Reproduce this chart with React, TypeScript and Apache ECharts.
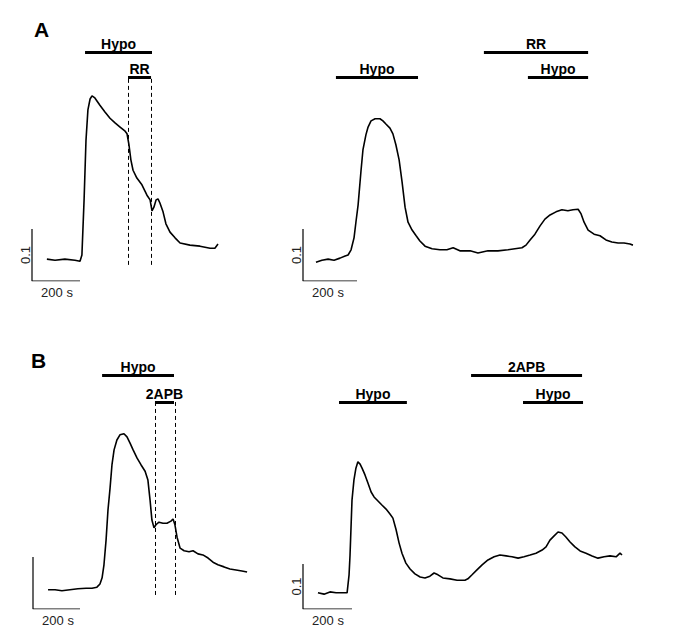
import React, { useEffect, useRef } from "react";
import * as echarts from "echarts";

// ---- Data (time in s, value in ratio units) ----
// Panel A, left trace
const aLeftTime = [62, 96, 137, 179, 200, 208, 217, 225, 233, 242, 250, 262, 283, 304, 325, 346, 367, 388, 396, 404, 412, 421, 437, 458, 479, 492, 500, 508, 517, 525, 533, 546, 558, 575, 596, 617, 658, 700, 742, 762, 775];
const aLeftValue = [0.042, 0.040, 0.042, 0.040, 0.038, 0.050, 0.156, 0.271, 0.329, 0.350, 0.356, 0.352, 0.338, 0.325, 0.313, 0.304, 0.296, 0.288, 0.283, 0.262, 0.233, 0.213, 0.198, 0.185, 0.165, 0.156, 0.135, 0.142, 0.156, 0.158, 0.150, 0.133, 0.110, 0.094, 0.083, 0.073, 0.069, 0.067, 0.063, 0.063, 0.071];
// Panel A, right trace
const aRightTime = [48, 70, 93, 115, 137, 156, 167, 178, 189, 196, 204, 215, 222, 233, 241, 252, 267, 285, 296, 307, 322, 333, 344, 356, 367, 378, 389, 404, 419, 433, 452, 478, 507, 533, 556, 581, 619, 648, 685, 722, 759, 785, 811, 826, 841, 859, 878, 896, 915, 937, 959, 981, 1000, 1019, 1030, 1041, 1056, 1078, 1100, 1122, 1144, 1167, 1189, 1211, 1222];
const aRightValue = [0.036, 0.040, 0.042, 0.040, 0.044, 0.048, 0.050, 0.060, 0.083, 0.113, 0.146, 0.213, 0.252, 0.281, 0.296, 0.308, 0.312, 0.312, 0.308, 0.302, 0.294, 0.283, 0.262, 0.233, 0.190, 0.142, 0.113, 0.098, 0.087, 0.077, 0.067, 0.062, 0.060, 0.060, 0.064, 0.058, 0.058, 0.054, 0.058, 0.058, 0.060, 0.062, 0.064, 0.069, 0.079, 0.090, 0.106, 0.119, 0.127, 0.133, 0.137, 0.135, 0.137, 0.138, 0.129, 0.113, 0.098, 0.090, 0.087, 0.079, 0.075, 0.073, 0.073, 0.071, 0.069];
// Panel B, left trace
const bLeftTime = [64, 94, 123, 157, 191, 226, 251, 272, 285, 294, 302, 311, 319, 328, 336, 345, 357, 370, 387, 400, 413, 426, 443, 460, 477, 489, 498, 506, 515, 523, 536, 553, 570, 587, 596, 604, 613, 626, 643, 664, 681, 702, 723, 745, 766, 787, 813, 838, 864, 889, 911];
const bLeftValue = [0.037, 0.037, 0.035, 0.037, 0.039, 0.040, 0.040, 0.042, 0.048, 0.060, 0.085, 0.133, 0.190, 0.233, 0.277, 0.306, 0.325, 0.335, 0.337, 0.331, 0.319, 0.306, 0.290, 0.277, 0.265, 0.248, 0.210, 0.171, 0.156, 0.162, 0.167, 0.165, 0.165, 0.169, 0.173, 0.162, 0.138, 0.117, 0.112, 0.110, 0.112, 0.106, 0.104, 0.098, 0.090, 0.085, 0.081, 0.077, 0.075, 0.073, 0.071];
// Panel B, right trace
const bRightTime = [61, 86, 110, 135, 159, 180, 188, 192, 200, 208, 216, 224, 233, 241, 253, 265, 278, 290, 306, 322, 339, 355, 367, 380, 392, 404, 420, 437, 457, 478, 498, 518, 535, 551, 571, 600, 629, 661, 673, 690, 710, 731, 755, 780, 804, 829, 853, 878, 902, 927, 951, 976, 992, 1008, 1024, 1041, 1057, 1073, 1090, 1110, 1131, 1155, 1180, 1204, 1229, 1253, 1278, 1294, 1302];
const bRightValue = [0.036, 0.033, 0.038, 0.036, 0.036, 0.036, 0.076, 0.120, 0.242, 0.287, 0.313, 0.327, 0.322, 0.313, 0.298, 0.280, 0.260, 0.249, 0.240, 0.231, 0.222, 0.211, 0.202, 0.176, 0.147, 0.124, 0.102, 0.089, 0.078, 0.071, 0.069, 0.073, 0.080, 0.076, 0.069, 0.067, 0.064, 0.064, 0.067, 0.076, 0.087, 0.098, 0.109, 0.116, 0.120, 0.118, 0.116, 0.113, 0.116, 0.120, 0.124, 0.131, 0.138, 0.153, 0.162, 0.171, 0.169, 0.160, 0.149, 0.138, 0.129, 0.124, 0.118, 0.113, 0.116, 0.118, 0.116, 0.124, 0.120];

// Treatment bars: [label, start s, end s, level]
const aLeftBars: [string, number, number, number][] = [["Hypo", 221, 500, 0.440], ["RR", 400, 496, 0.392]];
const aRightBars: [string, number, number, number][] = [["Hypo", 122, 426, 0.392], ["RR", 670, 1056, 0.440], ["Hypo", 833, 1056, 0.392]];
const bLeftBars: [string, number, number, number][] = [["Hypo", 294, 600, 0.450], ["2APB", 519, 600, 0.398]];
const bRightBars: [string, number, number, number][] = [["2APB", 686, 1139, 0.520], ["Hypo", 147, 424, 0.460], ["Hypo", 898, 1143, 0.460]];

// Dashed guides: [time, bottom, top]
const aLeftGuides: [number, number, number][] = [[400, 0.031, 0.392], [496, 0.031, 0.392]];
const bLeftGuides: [number, number, number][] = [[519, 0.027, 0.398], [604, 0.027, 0.398]];

// Scale bars
const scaleTime = 200;
const scaleValue = 0.1;
const scaleTimeLabel = "200 s";
const scaleValueLabel = "0.1";

const FONT = "'Liberation Sans', Arial, sans-serif";

type Panel = {
  time: number[];
  value: number[];
  bars: [string, number, number, number][];
  guides: [number, number, number][];
  ox: number; oy: number; sx: number; sy: number; top: number; right: number;
  showValueLabel: boolean;
};

const panels: Panel[] = [
  { time: aLeftTime, value: aLeftValue, bars: aLeftBars, guides: aLeftGuides, ox: 32, oy: 281, sx: 48, sy: 52, top: 20, right: 245, showValueLabel: true },
  { time: aRightTime, value: aRightValue, bars: aRightBars, guides: [], ox: 303, oy: 281, sx: 54, sy: 52, top: 20, right: 650, showValueLabel: true },
  { time: bLeftTime, value: bLeftValue, bars: bLeftBars, guides: bLeftGuides, ox: 33, oy: 609, sx: 47, sy: 52, top: 345, right: 260, showValueLabel: false },
  { time: bRightTime, value: bRightValue, bars: bRightBars, guides: [], ox: 303, oy: 609, sx: 49, sy: 45, top: 345, right: 650, showValueLabel: true },
];

export default function App() {
  const ref = useRef<HTMLDivElement>(null);
  useEffect(() => {
    if (!ref.current) return;
    const chart = echarts.init(ref.current, undefined, { renderer: "svg" });
    const grids: any[] = [];
    const xAxes: any[] = [];
    const yAxes: any[] = [];
    const series: any[] = [];
    const graphics: any[] = [];

    panels.forEach((p, i) => {
      const width = p.right - p.ox;
      const height = p.oy - p.top;
      grids.push({ left: p.ox, top: p.top, width, height, containLabel: false });
      xAxes.push({ type: "value", gridIndex: i, min: 0, max: (width / p.sx) * scaleTime, show: false });
      yAxes.push({ type: "value", gridIndex: i, min: 0, max: (height / p.sy) * scaleValue, show: false });

      series.push({
        type: "line",
        xAxisIndex: i,
        yAxisIndex: i,
        data: p.time.map((t, k) => [t, p.value[k]]),
        showSymbol: false,
        lineStyle: { color: "#000", width: 1.6 },
        silent: true,
      });
      series.push({
        type: "line",
        xAxisIndex: i,
        yAxisIndex: i,
        data: [[0, scaleValue], [0, 0], [scaleTime, 0]],
        showSymbol: false,
        lineStyle: { color: "#000", width: 1.2 },
        silent: true,
        markLine: {
          silent: true,
          symbol: ["none", "none"],
          animation: false,
          data: [
            ...p.bars.map(([label, s, e, lvl]) => [
              {
                coord: [s, lvl],
                lineStyle: { color: "#000", width: 3, type: "solid" },
                label: {
                  show: true,
                  formatter: label,
                  position: "insideMiddleTop",
                  distance: 1,
                  color: "#000",
                  fontWeight: "bold",
                  fontSize: 14,
                  fontFamily: FONT,
                },
              },
              { coord: [e, lvl] },
            ]),
            ...p.guides.map(([t, b, top]) => [
              {
                coord: [t, b],
                lineStyle: { color: "#000", width: 1, type: [4, 3] },
                label: { show: false },
              },
              { coord: [t, top] },
            ]),
          ],
        },
      });

      graphics.push({
        type: "text",
        x: p.ox + 25,
        y: p.oy + 11,
        style: { text: scaleTimeLabel, fontSize: 13, fontFamily: FONT, fill: "#222", align: "center", verticalAlign: "middle" },
      });
      if (p.showValueLabel) {
        graphics.push({
          type: "text",
          x: p.ox - 7,
          y: p.oy - p.sy / 2,
          rotation: Math.PI / 2,
          style: { text: scaleValueLabel, fontSize: 13, fontFamily: FONT, fill: "#222", align: "center", verticalAlign: "middle" },
        });
      }
    });

    graphics.push({ type: "text", x: 34, y: 19, style: { text: "A", fontSize: 21, fontWeight: "bold", fontFamily: FONT, fill: "#000" } });
    graphics.push({ type: "text", x: 31, y: 350, style: { text: "B", fontSize: 21, fontWeight: "bold", fontFamily: FONT, fill: "#000" } });

    chart.setOption({
      animation: false,
      backgroundColor: "#fff",
      grid: grids,
      xAxis: xAxes,
      yAxis: yAxes,
      series,
      graphic: graphics,
    });
    return () => chart.dispose();
  }, []);
  return <div ref={ref} style={{ position: "fixed", left: 0, top: 0, width: 677, height: 636 }} />;
}
